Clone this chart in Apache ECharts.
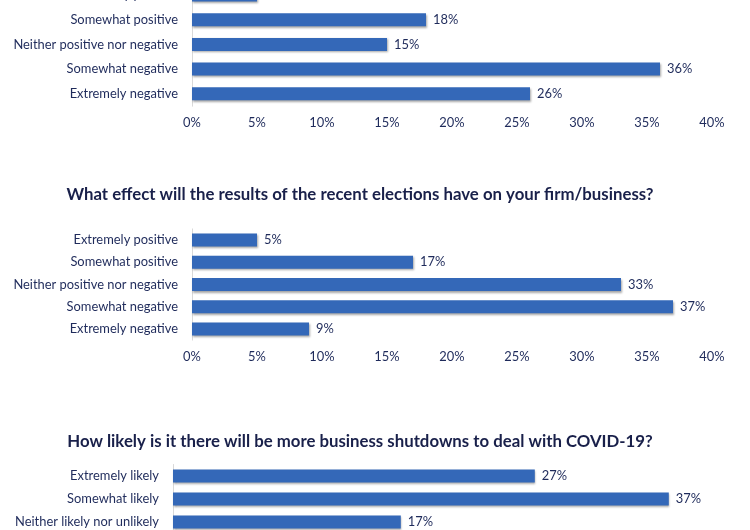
<!DOCTYPE html>
<html>
<head>
<meta charset="utf-8">
<script src="https://cdn.jsdelivr.net/npm/echarts@6/dist/echarts.min.js"></script>
<style>
html,body{margin:0;padding:0;background:#fff;overflow:hidden;width:750px;height:530px;position:relative;}
#c{position:absolute;left:0;top:-40px;width:750px;height:640px;}
</style>
</head>
<body>
<div id="c"></div>
<script>
const cats1 = ["Extremely positive", "Somewhat positive", "Neither positive nor negative", "Somewhat negative", "Extremely negative"];
const vals1 = [5, 18, 15, 36, 26];
const title2 = "What effect will the results of the recent elections have on your firm/business?";
const cats2 = ["Extremely positive", "Somewhat positive", "Neither positive nor negative", "Somewhat negative", "Extremely negative"];
const vals2 = [5, 17, 33, 37, 9];
const title3 = "How likely is it there will be more business shutdowns to deal with COVID-19?";
const cats3 = ["Extremely likely", "Somewhat likely", "Neither likely nor unlikely"];
const vals3 = [27, 37, 17];
const xMax = 40;
const xStep = 5;

const FONT = "Lato";
const BAR = "#3468B8";
const TXT = "#1F2B5B";
const TTL = "#19204A";
const OFF = 40; // container is shifted up by this many pixels

const chart = echarts.init(document.getElementById('c'));
const grids = [
  {left: 192, width: 520, top: OFF - 17.4, height: 123.6},
  {left: 192, width: 520, top: OFF + 228.9, height: 111.2},
  {left: 173, width: 536, top: OFF + 464.5, height: 69}
];
const catsAll = [cats1, cats2, cats3];
const valsAll = [vals1, vals2, vals3];

const option = {
  animation: false,
  title: [
    {text: title2, left: 355, top: OFF + 181, textAlign: 'center',
     textStyle: {fontFamily: FONT, fontSize: 16.8, fontWeight: 'bold', color: TTL}},
    {text: title3, left: 355, top: OFF + 428, textAlign: 'center',
     textStyle: {fontFamily: FONT, fontSize: 16.8, fontWeight: 'bold', color: TTL}}
  ],
  grid: grids,
  xAxis: grids.map((g, i) => ({
    type: 'value', gridIndex: i, min: 0, max: xMax, interval: xStep,
    axisLine: {show: false}, axisTick: {show: false}, splitLine: {show: false},
    axisLabel: {formatter: '{value}%', fontFamily: FONT, fontSize: 12.9, color: TXT, margin: 10.5}
  })),
  yAxis: grids.map((g, i) => ({
    type: 'category', gridIndex: i, data: catsAll[i], inverse: true,
    axisLine: {show: true, lineStyle: {color: '#D9D9D9', width: 1}},
    axisTick: {show: false},
    axisLabel: {fontFamily: FONT, fontSize: 12.9, color: TXT, margin: 14}
  })),
  series: valsAll.map((v, i) => ({
    type: 'bar', xAxisIndex: i, yAxisIndex: i, data: v, barWidth: 13,
    itemStyle: {color: BAR, shadowColor: 'rgba(0,0,0,0.35)', shadowBlur: 2, shadowOffsetY: 1.5, shadowOffsetX: 0.5},
    label: {show: true, position: 'right', distance: 7, formatter: '{c}%',
            fontFamily: FONT, fontSize: 12.9, color: TXT}
  }))
};
chart.setOption(option);
</script>
</body>
</html>
